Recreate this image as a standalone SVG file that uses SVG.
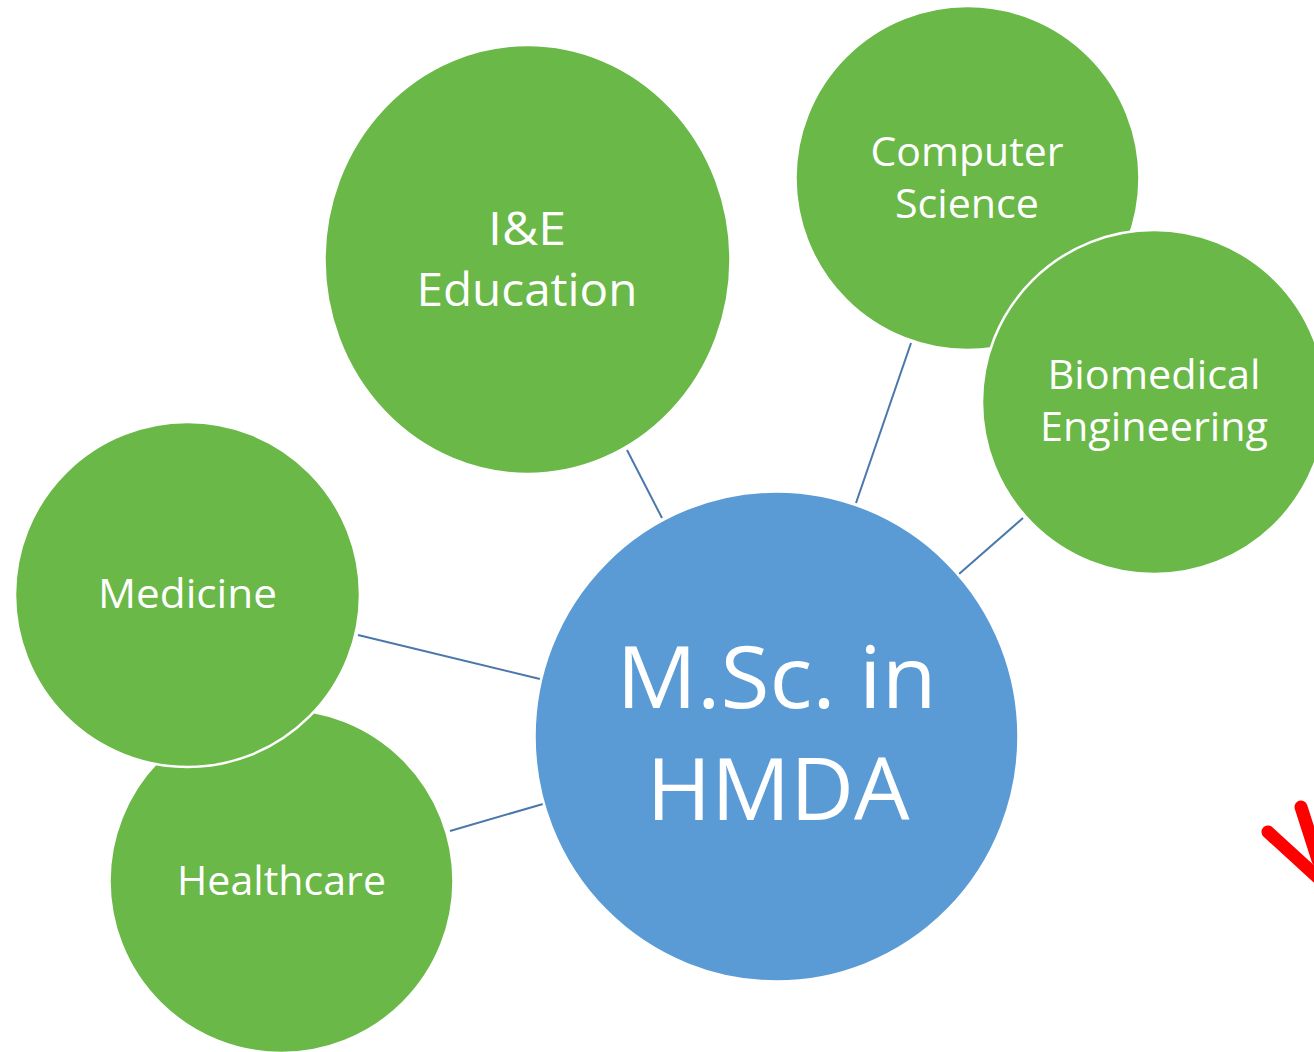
<svg xmlns="http://www.w3.org/2000/svg" width="1314" height="1052" viewBox="0 0 1314 1052">
<style>
.g{fill:#6ab847;stroke:#ffffff;stroke-width:2.5}
.b{fill:#5b9bd5;stroke:#ffffff;stroke-width:2.5}
.t{fill:#ffffff;font-family:"Open Sans","Liberation Sans",sans-serif;text-anchor:middle}
.c{stroke:#4a78ab;stroke-width:2;fill:none}
.r{stroke:#ff0000;stroke-width:13;stroke-linecap:round;fill:none}
</style>
<rect width="1314" height="1052" fill="#ffffff"/>
<g id="connectors">
<line class="c" x1="627" y1="450" x2="662" y2="518"/>
<line class="c" x1="911" y1="343" x2="856" y2="503"/>
<line class="c" x1="1023" y1="518" x2="959" y2="574"/>
<line class="c" x1="358" y1="635" x2="540" y2="679"/>
<line class="c" x1="450" y1="831" x2="543" y2="804"/>
</g>
<g id="ie-education">
<ellipse class="g" cx="527.5" cy="259.5" rx="203" ry="214.5"/>
<text class="t" x="527" y="245" font-size="46" textLength="78" lengthAdjust="spacingAndGlyphs">I&amp;E</text>
<text class="t" x="527" y="306" font-size="46" textLength="221" lengthAdjust="spacingAndGlyphs">Education</text>
</g>
<g id="computer-science">
<circle class="g" cx="967.5" cy="178" r="172"/>
<text class="t" x="967" y="166" font-size="40" textLength="193" lengthAdjust="spacingAndGlyphs">Computer</text>
<text class="t" x="967" y="218" font-size="40" textLength="144" lengthAdjust="spacingAndGlyphs">Science</text>
</g>
<g id="biomedical-engineering">
<circle class="g" cx="1154" cy="402" r="172"/>
<text class="t" x="1154" y="389" font-size="40" textLength="213" lengthAdjust="spacingAndGlyphs">Biomedical</text>
<text class="t" x="1154" y="441" font-size="40" textLength="228" lengthAdjust="spacingAndGlyphs">Engineering</text>
</g>
<g id="healthcare">
<circle class="g" cx="281.5" cy="881" r="172"/>
<text class="t" x="281.5" y="895" font-size="40" textLength="209" lengthAdjust="spacingAndGlyphs">Healthcare</text>
</g>
<g id="medicine">
<circle class="g" cx="187.5" cy="594.5" r="172.5"/>
<text class="t" x="187.5" y="608" font-size="40" textLength="179" lengthAdjust="spacingAndGlyphs">Medicine</text>
</g>
<g id="msc-hmda">
<ellipse class="b" cx="776.5" cy="736.5" rx="242" ry="245"/>
<text class="t" x="776.5" y="708" font-size="86" textLength="320" lengthAdjust="spacingAndGlyphs">M.Sc. in</text>
<text class="t" x="778" y="820" font-size="86" textLength="263" lengthAdjust="spacingAndGlyphs">HMDA</text>
</g>
<g id="red-mark">
<line class="r" x1="1268" y1="832" x2="1325" y2="884"/>
<line class="r" x1="1301" y1="807" x2="1318" y2="860"/>
</g>
</svg>
